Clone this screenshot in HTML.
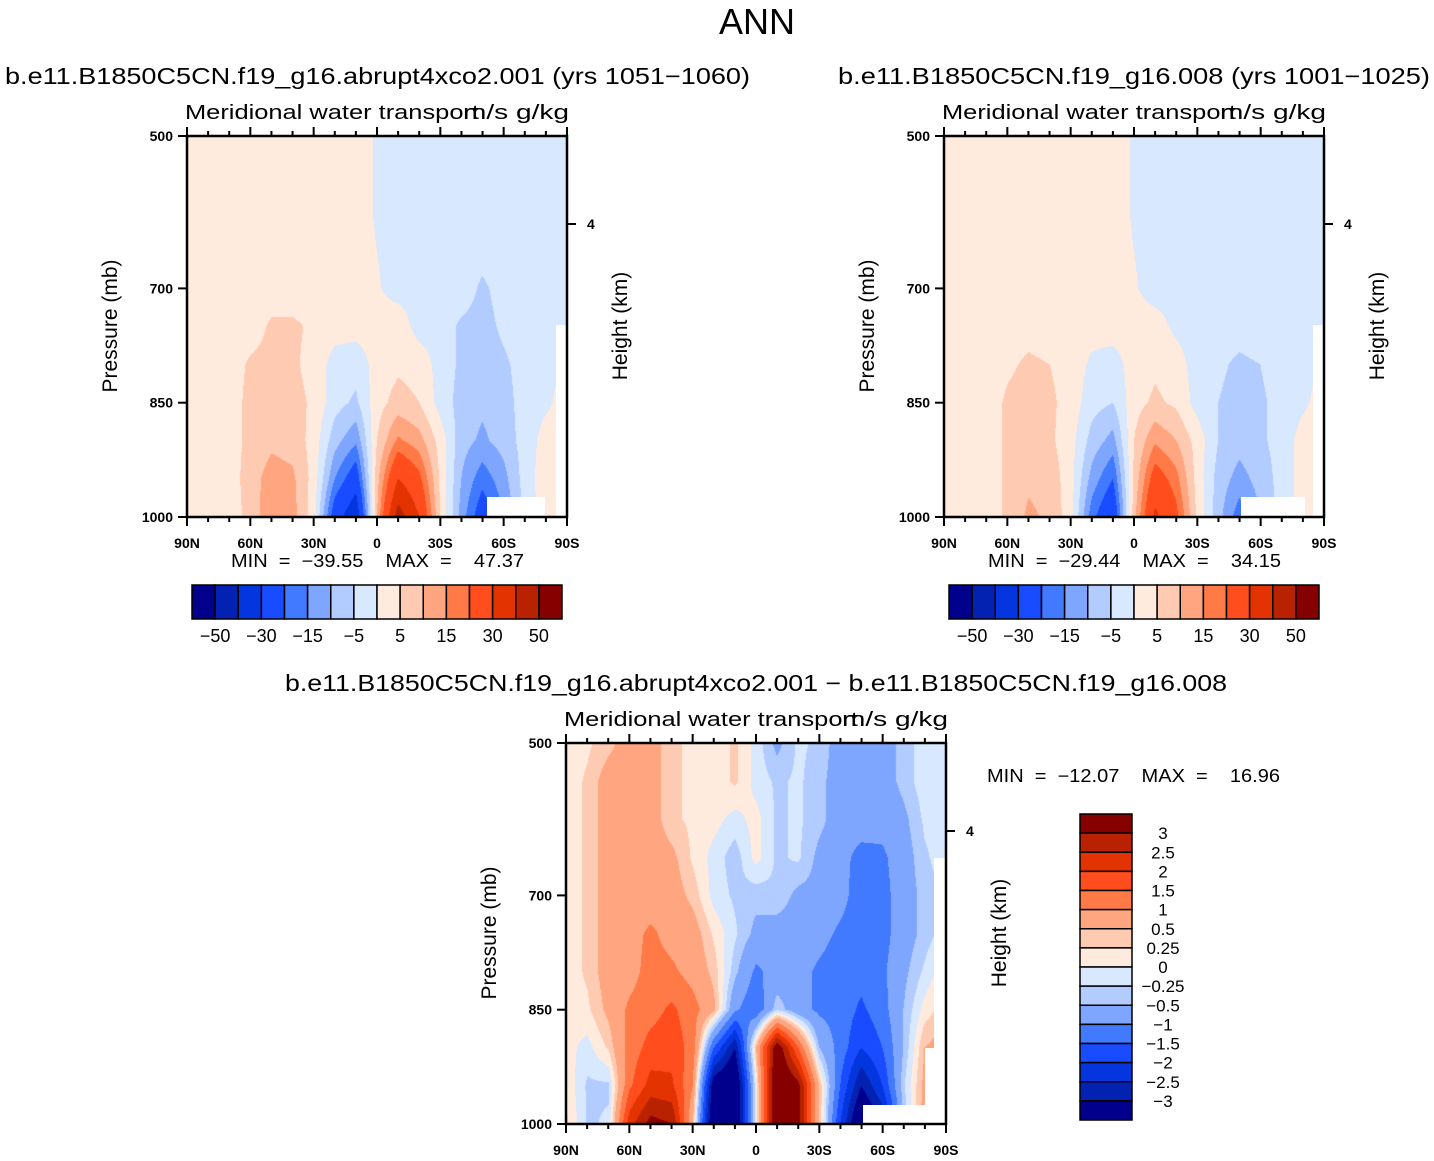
<!DOCTYPE html>
<html><head><meta charset="utf-8"><style>
html,body{margin:0;padding:0;background:#fff;width:1434px;height:1161px;overflow:hidden}
canvas{position:absolute}
#ov{position:absolute;left:0;top:0}
text{font-family:"Liberation Sans",sans-serif;fill:#000}
.pre{white-space:pre}
</style></head><body>
<canvas id="c1" width="380" height="381" style="left:187px;top:136px"></canvas>
<canvas id="c2" width="380" height="381" style="left:944px;top:136px"></canvas>
<canvas id="c3" width="380" height="381" style="left:566px;top:743px"></canvas>
<svg id="ov" width="1434" height="1161"></svg>
<script>
const LAT_TICKS=['90N','60N','30N','0','30S','60S','90S'];
const P_TICKS=[500,700,850,1000];
const P_LEVELS=[500,550,600,650,700,750,800,850,900,950,1000];
const LEV_A=[-50,-40,-30,-20,-15,-10,-5,0,5,10,15,20,30,40,50];
const LEV_A_LABELS=['−50','−30','−15','−5','5','15','30','50'];
const LEV_D=[-3,-2.5,-2,-1.5,-1,-0.5,-0.25,0,0.25,0.5,1,1.5,2,2.5,3];
const LEV_D_LABELS=['−3','−2.5','−2','−1.5','−1','−0.5','−0.25','0','0.25','0.5','1','1.5','2','2.5','3'];
const COLORS=['#01008c','#0322b2','#0436e0','#1a4cff','#4179ff','#7fa6ff','#b2ccff','#d7e8ff','#ffebdd','#ffcab2','#ffa57f','#ff7a46','#ff4d1e','#e23300','#b82200','#870000'];
const FIELD_A=[
[2,2,2,2,2,2,2,2,2,-0.5,-2,-2,-2,-2,-2,-2,-2,-2,-2],
[2,2,2,2,2,2,2,2,2,-0.5,-2,-2,-2,-2,-2,-2,-2,-2,-2],
[2,2,2,2,2,2,2,2,2,-0.5,-2,-2,-2,-2,-2,-2,-2,-2,-2],
[2,2,2,2,2,2,2,2,2,0,-2,-2,-2,-2,-3,-2,-2,-2,-2],
[2,2,2,2,2,2,2,2,2,0.5,-2,-2,-2,-2,-6,-3,-2,-2,-2],
[2,2,2,2,6,6,4,2,2,2,3,-2,-2,-6,-7,-4,-2,-2,-2],
[2,2,2,6,7,6,3,-2,-3,2,4,3,-2,-6,-8,-6,-3,-2,1],
[2,2,2,7,8,7,4,-3,-6,3,7,5,-2,-7,-9,-7,-3,-1,2],
[2,2,2,7,9,8,3,-8,-14,5,16,12,3,-8,-11,-8,-3,2,3],
[2,2,2,8,12,11,3,-15,-25,8,30,22,4,-10,-18,-12,-3,3,4],
[2,2,2,7,14,12,2,-25,-38,10,45,30,5,-12,-25,-15,-4,3,4]];
const FIELD_B=[
[2,2,2,2,2,2,2,2,2,-0.5,-2,-2,-2,-2,-2,-2,-2,-2,-2],
[2,2,2,2,2,2,2,2,2,-0.5,-2,-2,-2,-2,-2,-2,-2,-2,-2],
[2,2,2,2,2,2,2,2,2,-0.5,-2,-2,-2,-2,-2,-2,-2,-2,-2],
[2,2,2,2,2,2,2,2,2,0,-2,-2,-2,-2,-2,-2,-2,-2,-2],
[2,2,2,2,2,2,2,2,2,0.5,-2,-2,-2,-2,-2,-2,-2,-2,-2],
[2,2,2,2,3,2,2,2,2,2,2,-1,-2,-2,-3,-2,-2,-2,-2],
[2,2,2,4,6,5,3,-1,-2,2,4,2,-2,-4,-6,-5,-2,-2,1],
[2,2,2,6,7,6,3,-3,-5,3,6,4,-2,-5,-7,-6,-3,-1,2],
[2,2,2,6,7,6,2,-7,-12,5,14,10,3,-5,-8,-6,-3,2,3],
[2,2,2,6,9,8,2,-12,-20,6,24,17,3,-7,-12,-8,-3,2,3],
[2,2,2,6,11,9,2,-18,-28,8,32,22,4,-8,-18,-10,-3,2,3]];
const FIELD_D=[
[0.1,0.2,0.4,0.7,0.7,0.3,0.2,0.1,0.3,-0.1,-0.6,-0.2,-0.3,-0.7,-0.7,-0.7,-0.4,-0.1,-0.1],
[0.1,0.3,0.7,0.7,0.7,0.3,0.2,0.1,0.3,-0.1,-0.3,-0.2,-0.4,-0.7,-0.7,-0.7,-0.4,-0.1,-0.1],
[0.1,0.3,0.7,0.7,0.7,0.3,0.2,0.1,-0.1,0.1,-0.3,-0.2,-0.4,-0.7,-0.7,-0.8,-0.6,-0.2,-0.1],
[0.1,0.3,0.7,0.7,0.7,0.6,0.2,-0.1,-0.4,0.1,-0.3,-0.2,-0.6,-0.8,-1.2,-1.1,-0.7,-0.3,-0.1],
[0.1,0.3,0.7,0.7,0.7,0.7,0.4,-0.1,-0.3,-0.4,-0.3,-0.6,-0.6,-0.8,-1.3,-1.2,-0.7,-0.4,-0.2],
[0.1,0.3,0.7,0.8,1.1,0.8,0.7,0.2,-0.2,-0.6,-0.7,-0.7,-0.8,-1.1,-1.3,-1.2,-0.7,-0.4,-0.1],
[0.1,0.3,0.7,0.8,1.2,1.1,0.8,0.4,-0.4,-1.1,-0.8,-0.8,-1.1,-1.3,-1.3,-1.1,-0.6,-0.2,0.2],
[0.1,0.2,0.6,1.1,1.3,1.6,1.2,0.6,-0.9,-1.4,-0.3,-0.8,-1.1,-1.2,-1.6,-1.2,-0.5,0.1,0.4],
[0.1,-0.1,0.3,1.2,1.7,1.8,1.3,-1.5,-3,0.5,3.5,1.5,-0.5,-1.2,-2,-1.5,-0.5,0.5,0.7],
[0.2,-0.3,-0.3,1.4,2.2,2.1,1.0,-3.5,-4,0,4,3.2,0.5,-1.5,-3,-2,-0.3,0.6,0.8],
[0.3,-0.3,-0.2,2.3,3.2,3,0.5,-4,-4,0,4,3.2,0.5,-2,-4,-3,-0.5,0.7,0.8]];

function hex(c){return [parseInt(c.substr(1,2),16),parseInt(c.substr(3,2),16),parseInt(c.substr(5,2),16)];}
const RGB=COLORS.map(hex);
function drawField(id,field,lev){
  const cv=document.getElementById(id),ctx=cv.getContext('2d');
  const W=cv.width,H=cv.height,img=ctx.createImageData(W,H);
  const nc=field[0].length-1,nr=field.length-1;
  for(let y=0;y<H;y++){
    const p=500+y/(H-1)*500;
    let r=(p-P_LEVELS[0])/(P_LEVELS[P_LEVELS.length-1]-P_LEVELS[0])*nr;
    let r0=Math.min(Math.floor(r),nr-1),fr=r-r0;
    for(let x=0;x<W;x++){
      let c=x/(W-1)*nc;let c0=Math.min(Math.floor(c),nc-1),fc=c-c0;
      const v=(field[r0][c0]*(1-fc)+field[r0][c0+1]*fc)*(1-fr)+(field[r0+1][c0]*(1-fc)+field[r0+1][c0+1]*fc)*fr;
      let k=0;for(const l of lev){if(v>=l)k++;}
      const o=(y*W+x)*4,col=RGB[k];
      img.data[o]=col[0];img.data[o+1]=col[1];img.data[o+2]=col[2];img.data[o+3]=255;
    }
  }
  ctx.putImageData(img,0,0);
}
drawField('c1',FIELD_A,LEV_A);
drawField('c2',FIELD_B,LEV_A);
drawField('c3',FIELD_D,LEV_D);

const NS='http://www.w3.org/2000/svg',svg=document.getElementById('ov');
function mk(tag,attrs,parent){const e=document.createElementNS(NS,tag);for(const k in attrs)e.setAttribute(k,attrs[k]);(parent||svg).appendChild(e);return e;}
function txt(s,x,y,size,anchor,parent,extra){const t=mk('text',Object.assign({x:x,y:y,'font-size':size,'text-anchor':anchor||'start'},extra||{}),parent);t.textContent=s;return t;}

let t=txt('ANN',757,34,36,'middle');



function panel(px,py,title,tx,tw,minmax,mmx,mmy,mmw,masks,name){
  const g=mk('g',{});
  
  
  const W=380,H=381;
  for(const m of masks){const r=mk('rect',{x:px+m[0],y:py+m[1],width:m[2],height:m[3],fill:'#fff'},g);
    
    }
  const fr=mk('rect',{x:px,y:py,width:W,height:H,fill:'none',stroke:'#000','stroke-width':2.5},g);
  
  
  const tt=txt(title,tx,py-52,23,'start',g,{textLength:tw,lengthAdjust:'spacingAndGlyphs'});
  
  
  const st=txt('Meridional water transport',px-2,py-17,20,'start',g,{textLength:294,lengthAdjust:'spacingAndGlyphs'});
  
  
  const un=txt('m/s g/kg',px+W+2,py-17,20,'end',g,{textLength:106,lengthAdjust:'spacingAndGlyphs'});
  
  
  for(let i=0;i<=18;i++){
    const x=px+i/18*W,maj=i%3===0,len=maj?9:5;
    mk('line',{x1:x,y1:py+H,x2:x,y2:py+H+len,stroke:'#000','stroke-width':2},g);
    mk('line',{x1:x,y1:py,x2:x,y2:py-len,stroke:'#000','stroke-width':2},g);
  }
  LAT_TICKS.forEach((s,i)=>{const l=txt(s,px+i/6*W,py+H+31,14,'middle',g,{'font-weight':'bold'});
    
    });
  P_TICKS.forEach(p=>{const y=py+(p-500)/500*H;
    mk('line',{x1:px-9,y1:y,x2:px,y2:y,stroke:'#000','stroke-width':2},g);
    const l=txt(String(p),px-14,y+5,14,'end',g,{'font-weight':'bold'});
    
    });
  mk('line',{x1:px+W,y1:py+88,x2:px+W+9,y2:py+88,stroke:'#000','stroke-width':2},g);
  const h4=txt('4',px+W+20,py+93,14,'start',g,{'font-weight':'bold'});
  
  
  const yl=txt('Pressure (mb)',0,0,21,'middle',g,{transform:`translate(${px-70},${py+190}) rotate(-90)`});
  
  
  const hl=txt('Height (km)',0,0,21,'middle',g,{transform:`translate(${px+W+60},${py+190}) rotate(-90)`});
  
  
  const mm=txt(minmax,mmx,mmy,18,'start',g,{textLength:mmw,lengthAdjust:'spacingAndGlyphs',class:'pre'});
  
  
}
panel(187,136,'b.e11.B1850C5CN.f19_g16.abrupt4xco2.001 (yrs 1051−1060)',5,745,'MIN  =  −39.55    MAX  =    47.37',231,567,293,
  [[300,361,58,20],[369,189,11,192]],'panel-4xco2');
panel(944,136,'b.e11.B1850C5CN.f19_g16.008 (yrs 1001−1025)',838,592,'MIN  =  −29.44    MAX  =    34.15',988,567,293,
  [[297,361,64,20],[369,189,11,192]],'panel-control');
panel(566,743,'b.e11.B1850C5CN.f19_g16.abrupt4xco2.001 − b.e11.B1850C5CN.f19_g16.008',285,942,'MIN  =  −12.07    MAX  =    16.96',987,782,293,
  [[297,362,70,19],[368,115,12,266],[359,305,21,76]],'panel-difference');

function hbar(x0,y0,name){
  const g=mk('g',{});
  
  
  const bw=370/16;
  COLORS.forEach((c,i)=>{const r=mk('rect',{x:x0+i*bw,y:y0,width:bw,height:34,fill:c,stroke:'#000','stroke-width':1.5},g);
    
    });
  LEV_A_LABELS.forEach((s,i)=>{const l=txt(s,x0+(1+2*i)*bw,y0+57,18,'middle',g);
    
    });
}
hbar(192,585,'colorbar-4xco2');
hbar(949,585,'colorbar-control');
(function(){
  const g=mk('g',{});
  
  
  const x0=1080,y0=814,bh=306/16;
  COLORS.slice().reverse().forEach((c,i)=>{const r=mk('rect',{x:x0,y:y0+i*bh,width:52,height:bh,fill:c,stroke:'#000','stroke-width':1.5},g);
    
    });
  LEV_D_LABELS.slice().reverse().forEach((s,i)=>{const l=txt(s,1163,y0+(i+1)*bh+6,17,'middle',g);
    
    });
})();
</script>
</body></html>
